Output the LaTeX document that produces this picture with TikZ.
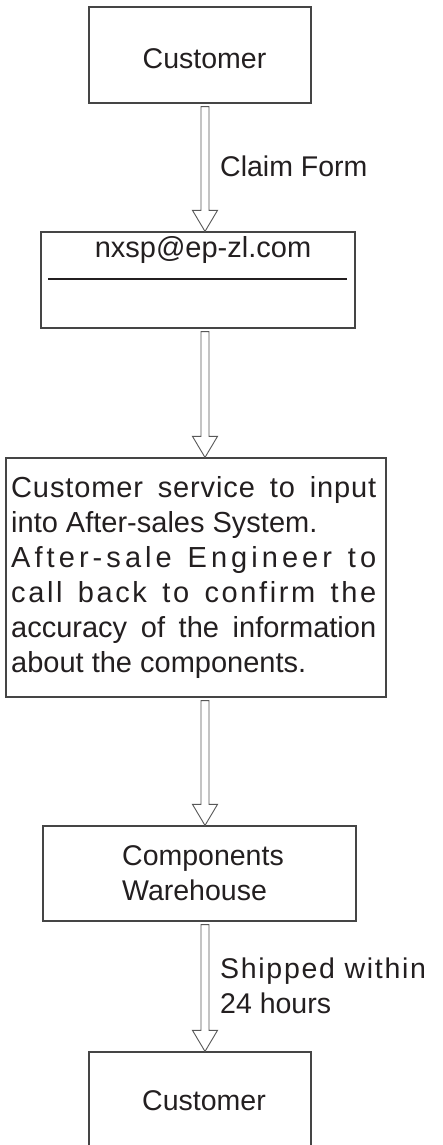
\documentclass[tikz,border=0pt]{standalone}
\usepackage{fontspec}
\setmainfont{Liberation Sans}
\usetikzlibrary{calc}
\definecolor{ink}{HTML}{231F20}
\definecolor{rule}{HTML}{454545}

% x position shared by all the hollow flow arrows
\def\arrowx{205pt}
% hollow block arrow from the bottom of one box to the top of the next
\newcommand\flowarrow[2]{%
  \draw[blockarrow] let \p1=(#1.south), \p2=(#2.north) in
    (\arrowx-4pt,\y1-3pt) -- (\arrowx+4pt,\y1-3pt) -- (\arrowx+4pt,\y2+21pt)
    -- (\arrowx+12.5pt,\y2+21pt) -- (\arrowx,\y2) -- (\arrowx-12.5pt,\y2+21pt)
    -- (\arrowx-4pt,\y2+21pt) -- cycle;}

\begin{document}
\begin{tikzpicture}[x=1pt,y=-1pt,
  box/.style={draw=rule, line width=1.2pt, inner sep=0pt, rectangle, fill=white},
  blockarrow/.style={draw=rule!90, line width=0.9pt, fill=white},
  txt/.style={inner sep=0pt, text=ink, font=\fontsize{28.5}{35}\selectfont},
  bigtxt/.style={inner sep=0pt, text=ink, font=\fontsize{29}{35}\selectfont},
]
\clip (0,0) rectangle (442,1145);
\fill[white] (0,0) rectangle (442,1145);

% boxes
\node[box, minimum width=222pt, minimum height=96pt] (cust1) at (200,55) {};
\node[box, minimum width=314pt, minimum height=96pt] (mail) at (198,280) {};
\node[box, minimum width=380pt, minimum height=239pt] (proc) at (196,577.5) {};
\node[box, minimum width=313pt, minimum height=95pt] (store) at (199.5,873.5) {};
\node[box, minimum width=222pt, minimum height=110pt] (cust2) at (200,1107) {};

% texts
\node[txt, anchor=base] (t-cust1) at (204.5,69) {Customer};
\node[txt, anchor=base] (t-mail) at (203,257) {\fontsize{29}{35}\selectfont nxsp@ep-zl.com};
\coordinate (ul-a) at (48,279);
\coordinate (ul-b) at (347,279);
\draw[ink, line width=1.5pt] (ul-a) -- (ul-b);

\node[bigtxt, anchor=base west] (t-proc) at (11,497) {%
  \begin{minipage}[t]{365pt}\setlength\parindent{0pt}%
  \makebox[\linewidth][s]{\addfontfeatures{LetterSpace=3}Customer service to input}\\
  into After-sales System.\\
  \makebox[\linewidth][s]{\addfontfeatures{LetterSpace=14}After-sale Engineer to}\\
  \makebox[\linewidth][s]{\addfontfeatures{LetterSpace=9}call back to confirm the}\\
  \makebox[\linewidth][s]{accuracy of the information}\\
  about the components.
  \end{minipage}};

% multi-line nodes: the base anchor sits on the last line
\node[txt, anchor=base west, align=left] (t-store) at (122,900) {Components\\Warehouse};
\node[txt, anchor=base] (t-cust2) at (204,1110) {Customer};

% arrows
\flowarrow{cust1}{mail}
\flowarrow{mail}{proc}
\flowarrow{proc}{store}
\flowarrow{store}{cust2}

% arrow labels
\node[txt, anchor=base west] (l-claim) at (220,176) {Claim Form};
\node[txt, anchor=base west, align=left] (l-ship) at (220,1013)
  {{\addfontfeatures{LetterSpace=6}Shipped within}\\24 hours};
\end{tikzpicture}
\end{document}
